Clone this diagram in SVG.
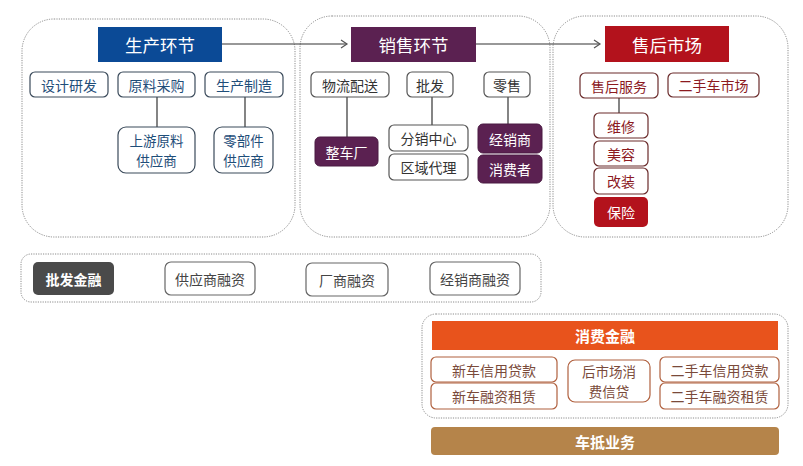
<svg xmlns="http://www.w3.org/2000/svg" width="803" height="466" viewBox="0 0 803 466">
<defs>
<style>
text{font-family:"Noto Sans CJK SC","Noto Sans",sans-serif;text-anchor:middle;dominant-baseline:central}
.cont{fill:#fff;stroke:#8c8c8c;stroke-width:1;stroke-dasharray:1.2 1.2}
.hd{font-size:17.5px;fill:#fff}
.sub{font-size:14px}
.two{font-size:13.5px}
.pb{fill:#fff;stroke:#3a4a5a;stroke-width:1.2}
.pt{fill:#1f4e79}
.sb{fill:#fff;stroke:#555;stroke-width:1.2}
.st{fill:#333}
.sf{fill:#5b2151;stroke:#4a1a42}
.wt{fill:#fff}
.rb{fill:#fff;stroke:#6a2a2a;stroke-width:1.2}
.rt{fill:#8c1a1f}
.gb{fill:#fff;stroke:#666;stroke-width:1.2}
.gt{fill:#444}
.ob{fill:#fff;stroke:#b0603e;stroke-width:1.2}
.ot{fill:#7a4a3a}
.ln{stroke:#333;stroke-width:1.2;fill:none}
.bold{font-weight:bold}
</style>
<marker id="arr" markerWidth="10" markerHeight="10" refX="8" refY="5" orient="auto" markerUnits="userSpaceOnUse">
<path d="M2,1 L8,5 L2,9" fill="none" stroke="#555" stroke-width="1.2"/>
</marker>
</defs>
<rect width="803" height="466" fill="#fff"/>

<g id="containers">
<rect class="cont" x="22" y="19" width="273" height="218" rx="32"/>
<rect class="cont" x="300" y="16" width="250" height="221" rx="32"/>
<rect class="cont" x="553" y="16" width="235" height="221" rx="32"/>
<rect class="cont" x="21" y="254" width="520" height="48" rx="10"/>
<rect class="cont" x="422" y="314" width="366" height="104" rx="14"/>
</g>

<g id="connectors">
<path class="ln" d="M222,44 H347" stroke="#555" marker-end="url(#arr)"/>
<path class="ln" d="M476,44 H600" stroke="#555" marker-end="url(#arr)"/>
<path class="ln" d="M157,97 V127"/>
<path class="ln" d="M245,97 V127"/>
<path class="ln" d="M347,97 V137"/>
<path class="ln" d="M432,97 V125"/>
<path class="ln" d="M508,97 V124"/>
<path class="ln" d="M619,98 V113"/>
</g>

<g id="prod-header"><rect x="98" y="27" width="124" height="35" fill="#0b4a96"/><text class="hd" x="160" y="44.5">生产环节</text></g>
<g id="design"><rect class="pb" x="30" y="72" width="78" height="25" rx="5"/><text class="sub pt" x="69" y="84.5">设计研发</text></g>
<g id="purchase"><rect class="pb" x="118" y="72" width="77" height="25" rx="5"/><text class="sub pt" x="156.5" y="84.5">原料采购</text></g>
<g id="manufacture"><rect class="pb" x="205" y="72" width="78" height="25" rx="5"/><text class="sub pt" x="244" y="84.5">生产制造</text></g>
<g id="raw-supplier"><rect class="pb" x="118" y="127" width="77" height="46" rx="8"/><text class="two pt" x="156.5" y="140">上游原料</text><text class="two pt" x="156.5" y="160">供应商</text></g>
<g id="parts-supplier"><rect class="pb" x="214" y="127" width="59" height="46" rx="8"/><text class="two pt" x="243.5" y="140">零部件</text><text class="two pt" x="243.5" y="160">供应商</text></g>

<g id="sales-header"><rect x="351" y="27" width="125" height="35" fill="#5b2151"/><text class="hd" x="413.5" y="44.5">销售环节</text></g>
<g id="logistics"><rect class="sb" x="311" y="72" width="78" height="25" rx="5"/><text class="sub st" x="350" y="84.5">物流配送</text></g>
<g id="wholesale"><rect class="sb" x="407" y="72" width="46" height="25" rx="5"/><text class="sub st" x="430" y="84.5">批发</text></g>
<g id="retail"><rect class="sb" x="484" y="72" width="46" height="25" rx="5"/><text class="sub st" x="507" y="84.5">零售</text></g>
<g id="oem"><rect class="sf" x="315" y="137" width="63" height="29" rx="5"/><text class="sub wt" x="346.5" y="151.5">整车厂</text></g>
<g id="distribution"><rect class="sb" x="389" y="125" width="79" height="26" rx="5"/><text class="sub st" x="428.5" y="138">分销中心</text></g>
<g id="regional"><rect class="sb" x="389" y="154" width="79" height="26" rx="5"/><text class="sub st" x="428.5" y="167">区域代理</text></g>
<g id="dealer"><rect class="sf" x="478" y="124" width="64" height="29" rx="5"/><text class="sub wt" x="510" y="138.5">经销商</text></g>
<g id="consumer"><rect class="sf" x="478" y="155" width="64" height="28" rx="5"/><text class="sub wt" x="510" y="169">消费者</text></g>

<g id="after-header"><rect x="605" y="26" width="124" height="36" fill="#b3121c"/><text class="hd" x="667" y="44">售后市场</text></g>
<g id="after-service"><rect class="rb" x="580" y="73" width="78" height="25" rx="5"/><text class="sub rt" x="619" y="85.5">售后服务</text></g>
<g id="used-market"><rect class="rb" x="668" y="73" width="91" height="24" rx="5"/><text class="sub rt" x="713.5" y="85">二手车市场</text></g>
<g id="repair"><rect class="rb" x="594" y="113" width="54" height="25" rx="5"/><text class="sub rt" x="621" y="125.5">维修</text></g>
<g id="beauty"><rect class="rb" x="594" y="141" width="54" height="25" rx="5"/><text class="sub rt" x="621" y="153.5">美容</text></g>
<g id="modify"><rect class="rb" x="594" y="168" width="54" height="26" rx="5"/><text class="sub rt" x="621" y="181">改装</text></g>
<g id="insurance"><rect x="594" y="197" width="54" height="30" rx="5" fill="#b3121c"/><text class="sub wt" x="621" y="212">保险</text></g>

<g id="wholesale-finance"><rect x="33" y="262" width="81" height="33" rx="5" fill="#4a4a4a"/><text class="sub wt bold" x="73.5" y="278.5">批发金融</text></g>
<g id="supplier-fin"><rect class="gb" x="165" y="262" width="90" height="33" rx="6"/><text class="sub gt" x="210" y="278.5">供应商融资</text></g>
<g id="oem-fin"><rect class="gb" x="306" y="263" width="82" height="33" rx="6"/><text class="sub gt" x="347" y="279.5">厂商融资</text></g>
<g id="dealer-fin"><rect class="gb" x="430" y="262" width="90" height="33" rx="6"/><text class="sub gt" x="475" y="278.5">经销商融资</text></g>

<g id="consumer-finance"><rect x="432" y="321" width="346" height="29" fill="#e8531c"/><text class="sub wt bold" x="605" y="335.5" style="font-size:15px">消费金融</text></g>
<g id="new-credit"><rect class="ob" x="431" y="357" width="126" height="25" rx="5"/><text class="sub ot" x="494" y="369.5">新车信用贷款</text></g>
<g id="new-lease"><rect class="ob" x="431" y="383" width="126" height="26" rx="5"/><text class="sub ot" x="494" y="396">新车融资租赁</text></g>
<g id="after-credit"><rect class="ob" x="568" y="360" width="82" height="42" rx="7"/><text class="two ot" x="609" y="371">后市场消</text><text class="two ot" x="609" y="391">费信贷</text></g>
<g id="used-credit"><rect class="ob" x="660" y="357" width="119" height="25" rx="5"/><text class="sub ot" x="719.5" y="369.5">二手车信用贷款</text></g>
<g id="used-lease"><rect class="ob" x="660" y="383" width="119" height="26" rx="5"/><text class="sub ot" x="719.5" y="396">二手车融资租赁</text></g>

<g id="car-mortgage"><rect x="431" y="427" width="348" height="28" rx="4" fill="#b5844a"/><text class="sub wt bold" x="605" y="441" style="font-size:15px">车抵业务</text></g>
</svg>
